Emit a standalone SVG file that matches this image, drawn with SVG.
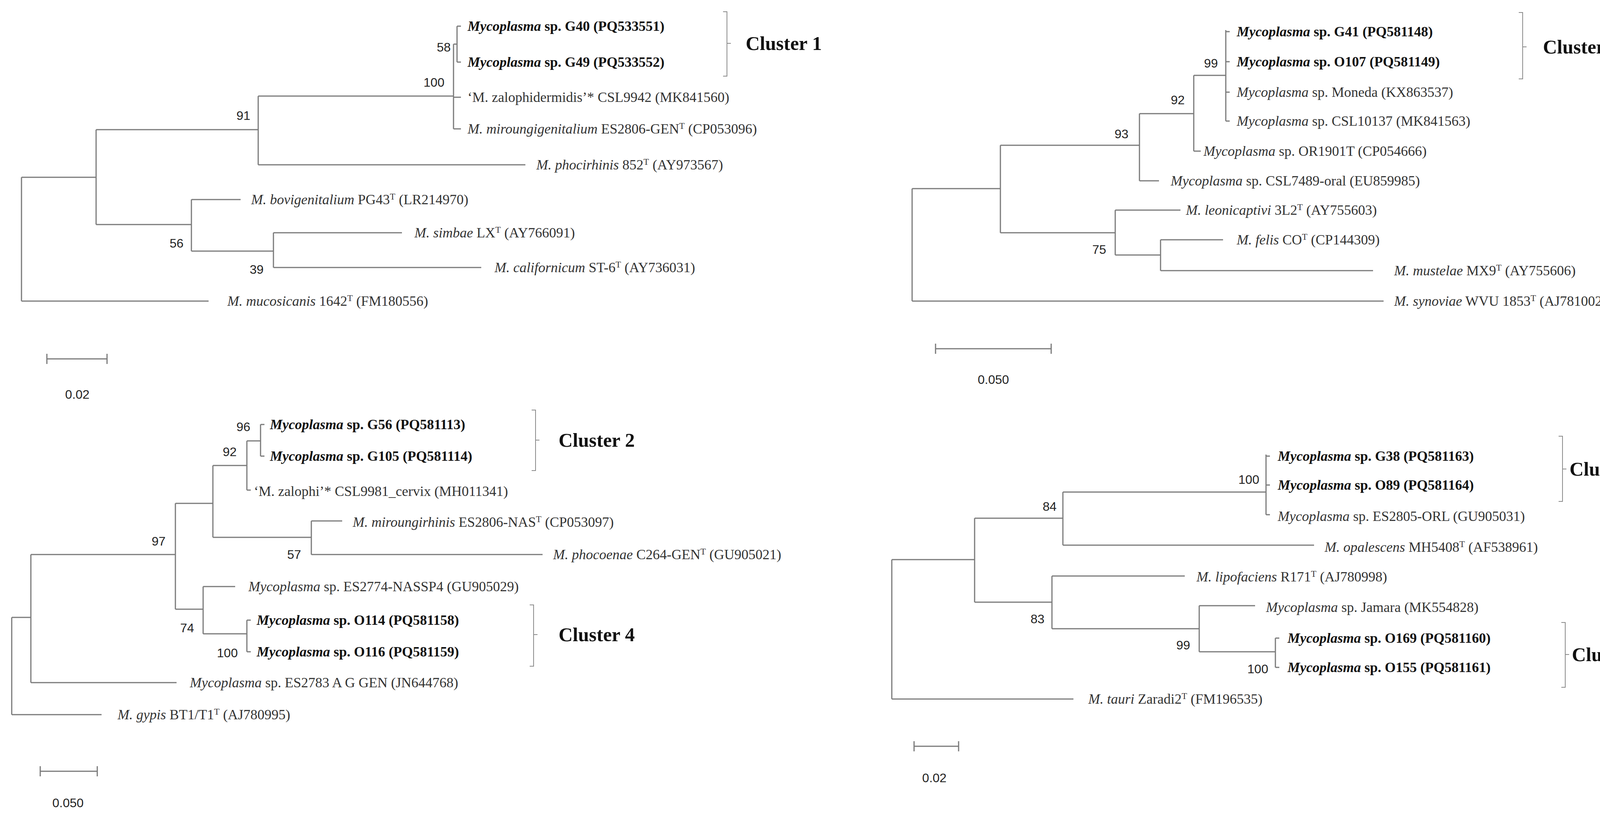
<svg xmlns="http://www.w3.org/2000/svg" width="4292" height="2087" viewBox="0 0 4292 2087">
<style>
.br{stroke:#7a7a7a;stroke-width:3;fill:none}
.bk{stroke:#8a8a8a;stroke-width:2;fill:none}
.lf{font-family:"Liberation Serif",serif;font-size:36px;fill:#333}
.b{font-weight:bold;fill:#111}
.i{font-style:italic}
.sup{font-size:23px}
.bs{font-family:"Liberation Sans",sans-serif;font-size:32px;text-anchor:middle;fill:#222}
.cl{font-family:"Liberation Serif",serif;font-size:50px;font-weight:bold;fill:#111}
</style>
<rect width="4292" height="2087" fill="#fff"/>
<g id="connectors">
<path class="br" d="M55 454V771M55 454H246M55 771H534M246 332V575M246 332H661M246 575H490M661 246V422M661 246H1161M661 422H1345M1161 113V330M1161 113H1170M1161 249H1180M1161 330H1180M1170 67V159M1170 67H1180M1170 159H1180M490 511V643M490 511H616M490 643H700M700 596V685M700 596H1029M700 685H1232"/>
<path class="br" d="M120 919H274M120 906V932M274 906V932"/>
<path class="bk" d="M1851 30H1861V195H1851M1861 111H1871"/>
<path class="br" d="M2335 483V771M2335 483H2561M2335 771H3542M2561 372V596M2561 372H2917M2561 596H2855M2917 291V463M2917 291H3056M2917 463H2967M3056 193V387M3056 193H3138M3056 387H3074M3138 77V310M3138 81H3148M3138 158H3148M3138 236H3148M3138 310H3148M2855 538V653M2855 538H3022M2855 653H2971M2971 614V693M2971 614H3131M2971 693H3515"/>
<path class="br" d="M2395 893H2691M2395 880V906M2691 880V906"/>
<path class="bk" d="M3888 32H3898V202H3888M3898 120H3908"/>
<path class="br" d="M30 1581V1830M30 1581H79M30 1830H260M79 1420V1748M79 1420H449M79 1748H452M449 1289V1560M449 1289H545M449 1560H520M545 1192V1376M545 1192H632M545 1376H797M632 1129V1255M632 1129H667M632 1255H642M667 1087V1168M667 1087H677M667 1168H677M797 1334V1420M797 1334H876M797 1420H1389M520 1502V1623M520 1502H602M520 1623H632M632 1588V1669M632 1588H642M632 1669H642"/>
<path class="br" d="M103 1975H249M103 1962V1988M249 1962V1988"/>
<path class="bk" d="M1361 1050H1371V1205H1361M1371 1127H1381M1356 1549H1366V1706H1356M1366 1625H1376"/>
<path class="br" d="M2283 1433V1790M2283 1433H2495M2283 1790H2748M2495 1327V1542M2495 1327H2721M2495 1542H2693M2721 1260V1396M2721 1260H3241M2721 1396H3364M3241 1164V1318M3241 1168H3251M3241 1242H3251M3241 1318H3251M2693 1475V1610M2693 1475H3033M2693 1610H3070M3070 1551V1669M3070 1551H3213M3070 1669H3265M3265 1634V1709M3265 1634H3275M3265 1709H3275"/>
<path class="br" d="M2340 1911H2454M2340 1898V1924M2454 1898V1924"/>
<path class="bk" d="M3990 1117H4000V1284H3990M4000 1201H4010M3997 1594H4007V1760H3997M4007 1676H4017"/>
</g>
<g id="panel1">
<g id="n-g40"><text class="lf b" x="1197" y="79"><tspan class="i">Mycoplasma</tspan> sp. G40 (PQ533551)</text></g>
<g id="n-g49"><text class="lf b" x="1197" y="171"><tspan class="i">Mycoplasma</tspan> sp. G49 (PQ533552)</text></g>
<g id="n-zalophidermidis"><text class="lf" x="1197" y="261">‘M. zalophidermidis’* CSL9942 (MK841560)</text></g>
<g id="n-miroungigenitalium"><text class="lf" x="1197" y="342"><tspan class="i">M. miroungigenitalium</tspan> ES2806-GEN<tspan class="sup" dy="-12">T</tspan><tspan dy="12"> (CP053096)</tspan></text></g>
<g id="n-phocirhinis"><text class="lf" x="1373" y="434"><tspan class="i">M. phocirhinis</tspan> 852<tspan class="sup" dy="-12">T</tspan><tspan dy="12"> (AY973567)</tspan></text></g>
<g id="n-bovigenitalium"><text class="lf" x="643" y="523"><tspan class="i">M. bovigenitalium</tspan> PG43<tspan class="sup" dy="-12">T</tspan><tspan dy="12"> (LR214970)</tspan></text></g>
<g id="n-simbae"><text class="lf" x="1061" y="608"><tspan class="i">M. simbae</tspan> LX<tspan class="sup" dy="-12">T</tspan><tspan dy="12"> (AY766091)</tspan></text></g>
<g id="n-californicum"><text class="lf" x="1266" y="697"><tspan class="i">M. californicum</tspan> ST-6<tspan class="sup" dy="-12">T</tspan><tspan dy="12"> (AY736031)</tspan></text></g>
<g id="n-mucosicanis"><text class="lf" x="582" y="783"><tspan class="i">M. mucosicanis</tspan> 1642<tspan class="sup" dy="-12">T</tspan><tspan dy="12"> (FM180556)</tspan></text></g>
<text class="bs" x="1136" y="132">58</text><text class="bs" x="1111" y="222">100</text><text class="bs" x="623" y="307">91</text><text class="bs" x="452" y="634">56</text><text class="bs" x="657" y="701">39</text>
<text class="bs" x="198" y="1021" font-size="30">0.02</text>
<g id="c1"><text class="cl" x="1909" y="128">Cluster 1</text></g>
</g>
<g id="panel2">
<g id="n-g41"><text class="lf b" x="3166" y="93"><tspan class="i">Mycoplasma</tspan> sp. G41 (PQ581148)</text></g>
<g id="n-o107"><text class="lf b" x="3166" y="170"><tspan class="i">Mycoplasma</tspan> sp. O107 (PQ581149)</text></g>
<g id="n-moneda"><text class="lf" x="3166" y="248"><tspan class="i">Mycoplasma</tspan> sp. Moneda (KX863537)</text></g>
<g id="n-csl10137"><text class="lf" x="3166" y="322"><tspan class="i">Mycoplasma</tspan> sp. CSL10137 (MK841563)</text></g>
<g id="n-or1901t"><text class="lf" x="3081" y="399"><tspan class="i">Mycoplasma</tspan> sp. OR1901T (CP054666)</text></g>
<g id="n-csl7489"><text class="lf" x="2997" y="475"><tspan class="i">Mycoplasma</tspan> sp. CSL7489-oral (EU859985)</text></g>
<g id="n-leonicaptivi"><text class="lf" x="3036" y="550"><tspan class="i">M. leonicaptivi</tspan> 3L2<tspan class="sup" dy="-12">T</tspan><tspan dy="12"> (AY755603)</tspan></text></g>
<g id="n-felis"><text class="lf" x="3166" y="626"><tspan class="i">M. felis</tspan> CO<tspan class="sup" dy="-12">T</tspan><tspan dy="12"> (CP144309)</tspan></text></g>
<g id="n-mustelae"><text class="lf" x="3569" y="705"><tspan class="i">M. mustelae</tspan> MX9<tspan class="sup" dy="-12">T</tspan><tspan dy="12"> (AY755606)</tspan></text></g>
<g id="n-synoviae"><text class="lf" x="3569" y="783"><tspan class="i">M. synoviae</tspan> WVU 1853<tspan class="sup" dy="-12">T</tspan><tspan dy="12"> (AJ781002)</tspan></text></g>
<text class="bs" x="3100" y="173">99</text><text class="bs" x="3015" y="267">92</text><text class="bs" x="2871" y="354">93</text><text class="bs" x="2814" y="650">75</text>
<text class="bs" x="2543" y="983" font-size="30">0.050</text>
<g id="c3"><text class="cl" x="3950" y="137">Cluster 3</text></g>
</g>
<g id="panel3">
<g id="n-g56"><text class="lf b" x="691" y="1099"><tspan class="i">Mycoplasma</tspan> sp. G56 (PQ581113)</text></g>
<g id="n-g105"><text class="lf b" x="691" y="1180"><tspan class="i">Mycoplasma</tspan> sp. G105 (PQ581114)</text></g>
<g id="n-zalophi"><text class="lf" x="650" y="1270">‘M. zalophi’* CSL9981_cervix (MH011341)</text></g>
<g id="n-miroungirhinis"><text class="lf" x="903" y="1349"><tspan class="i">M. miroungirhinis</tspan> ES2806-NAS<tspan class="sup" dy="-12">T</tspan><tspan dy="12"> (CP053097)</tspan></text></g>
<g id="n-phocoenae"><text class="lf" x="1416" y="1432"><tspan class="i">M. phocoenae</tspan>  C264-GEN<tspan class="sup" dy="-12">T</tspan><tspan dy="12"> (GU905021)</tspan></text></g>
<g id="n-es2774"><text class="lf" x="636" y="1514"><tspan class="i">Mycoplasma</tspan> sp. ES2774-NASSP4 (GU905029)</text></g>
<g id="n-o114"><text class="lf b" x="657" y="1600"><tspan class="i">Mycoplasma</tspan> sp. O114 (PQ581158)</text></g>
<g id="n-o116"><text class="lf b" x="657" y="1681"><tspan class="i">Mycoplasma</tspan> sp. O116 (PQ581159)</text></g>
<g id="n-es2783"><text class="lf" x="486" y="1760"><tspan class="i">Mycoplasma</tspan> sp. ES2783 A G GEN (JN644768)</text></g>
<g id="n-gypis"><text class="lf" x="301" y="1842"><tspan class="i">M. gypis</tspan> BT1/T1<tspan class="sup" dy="-12">T</tspan><tspan dy="12"> (AJ780995)</tspan></text></g>
<text class="bs" x="623" y="1104">96</text><text class="bs" x="588" y="1168">92</text><text class="bs" x="406" y="1397">97</text><text class="bs" x="753" y="1431">57</text><text class="bs" x="479" y="1619">74</text><text class="bs" x="582" y="1683">100</text>
<text class="bs" x="174" y="2067" font-size="30">0.050</text>
<g id="c2"><text class="cl" x="1430" y="1144">Cluster 2</text></g>
<g id="c4"><text class="cl" x="1430" y="1642">Cluster 4</text></g>
</g>
<g id="panel4">
<g id="n-g38"><text class="lf b" x="3271" y="1180"><tspan class="i">Mycoplasma</tspan> sp. G38 (PQ581163)</text></g>
<g id="n-o89"><text class="lf b" x="3271" y="1254"><tspan class="i">Mycoplasma</tspan> sp. O89 (PQ581164)</text></g>
<g id="n-es2805"><text class="lf" x="3271" y="1334"><tspan class="i">Mycoplasma</tspan> sp. ES2805-ORL (GU905031)</text></g>
<g id="n-opalescens"><text class="lf" x="3391" y="1413"><tspan class="i">M. opalescens</tspan> MH5408<tspan class="sup" dy="-12">T</tspan><tspan dy="12"> (AF538961)</tspan></text></g>
<g id="n-lipofaciens"><text class="lf" x="3063" y="1489"><tspan class="i">M. lipofaciens</tspan> R171<tspan class="sup" dy="-12">T</tspan><tspan dy="12"> (AJ780998)</tspan></text></g>
<g id="n-jamara"><text class="lf" x="3241" y="1567"><tspan class="i">Mycoplasma</tspan> sp. Jamara (MK554828)</text></g>
<g id="n-o169"><text class="lf b" x="3296" y="1646"><tspan class="i">Mycoplasma</tspan> sp. O169 (PQ581160)</text></g>
<g id="n-o155"><text class="lf b" x="3296" y="1721"><tspan class="i">Mycoplasma</tspan> sp. O155 (PQ581161)</text></g>
<g id="n-tauri"><text class="lf" x="2786" y="1802"><tspan class="i">M. tauri</tspan> Zaradi2<tspan class="sup" dy="-12">T</tspan><tspan dy="12"> (FM196535)</tspan></text></g>
<text class="bs" x="3197" y="1239">100</text><text class="bs" x="2687" y="1308">84</text><text class="bs" x="2656" y="1596">83</text><text class="bs" x="3029" y="1663">99</text><text class="bs" x="3220" y="1724">100</text>
<text class="bs" x="2392" y="2003" font-size="30">0.02</text>
<g id="c6"><text class="cl" x="4018" y="1218">Cluster 6</text></g>
<g id="c5"><text class="cl" x="4024" y="1693">Cluster 5</text></g>
</g>
</svg>
